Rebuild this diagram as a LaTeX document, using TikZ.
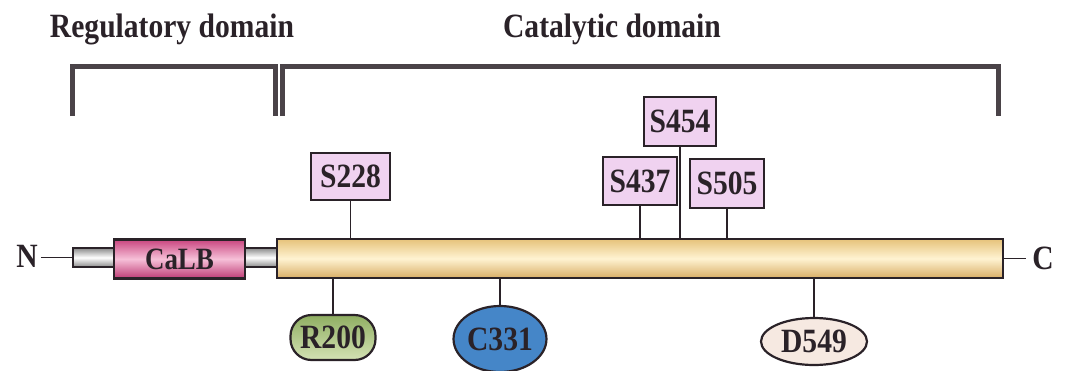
\documentclass[tikz,border=0pt]{standalone}
\usepackage{fontspec}
\setmainfont{Liberation Serif}
\usetikzlibrary{shapes.geometric}
\definecolor{ink}{HTML}{2A2228}
\definecolor{sitefill}{HTML}{F0D2F0}
\definecolor{barTop}{HTML}{E6C27A}
\definecolor{barMid}{HTML}{FFF3D2}
\definecolor{barBot}{HTML}{D9AE66}
\definecolor{calbTop}{HTML}{C9457F}
\definecolor{calbMid}{HTML}{F6C0D8}
\definecolor{calbBot}{HTML}{BE3A74}
\definecolor{tubeDark}{HTML}{8A8A8A}
\definecolor{greenTop}{HTML}{8FAE62}
\definecolor{greenBot}{HTML}{D4E2B4}
\definecolor{blueFill}{HTML}{4586C8}
\definecolor{beigeFill}{HTML}{F6E9E1}
% narrow, tall lettering
\newcommand{\narrowtxt}[1]{\scalebox{0.87}[1]{#1}}
\tikzset{
  every node/.style={text=ink, font=\bfseries},
  bracket/.style={draw=ink!85, line width=5pt, line join=miter, line cap=butt},
  tube/.style={draw=ink, line width=1.6pt, top color=tubeDark, bottom color=tubeDark, middle color=white, inner sep=0pt},
  protein/.style={draw=ink, line width=2.2pt, top color=barTop, bottom color=barBot, middle color=barMid, inner sep=0pt},
  calb/.style={draw=ink, line width=2.2pt, top color=calbTop, bottom color=calbBot, middle color=calbMid, inner sep=0pt, font=\bfseries\fontsize{31}{31}\selectfont},
  sitebox/.style={draw=ink, line width=2.2pt, fill=sitefill, inner sep=0pt, font=\bfseries\fontsize{34}{34}\selectfont},
  residue/.style={draw=ink, line width=2.2pt, inner sep=0pt, font=\bfseries\fontsize{34}{34}\selectfont},
  stem/.style={draw=ink, line width=1.8pt},
  terminus/.style={font=\bfseries\fontsize{34}{34}\selectfont, inner sep=0pt},
  heading/.style={font=\bfseries\fontsize{34}{34}\selectfont}
}
\begin{document}
\begin{tikzpicture}[x=1pt, y=-1pt]
\useasboundingbox (0,0) rectangle (1066,370);

% domain headings
\node[heading] (reg) at (172,29) {\narrowtxt{Regulatory domain}};
\node[heading] (cat) at (612,29) {\narrowtxt{Catalytic domain}};

% domain brackets
\draw[bracket] (72,116) -- (72,66) -- (275,66) -- (275,116);
\draw[bracket] (282,116) -- (282,66) -- (998,66) -- (998,116);

% linker tubes
\node[tube, minimum width=41pt, minimum height=19pt] (tubeL) at (93.5,257.5) {};
\node[tube, minimum width=34pt, minimum height=19pt] (tubeR) at (261,257.5) {};

% CaLB domain and catalytic body
\node[calb, minimum width=131pt, minimum height=39pt] (calb) at (179.5,259) {\narrowtxt{CaLB}};
\node[protein, minimum width=726pt, minimum height=39pt] (bar) at (640,258.5) {};

% termini
\node[terminus] (N) at (27,256) {\narrowtxt{N}};
\node[terminus] (C) at (1043,258) {\narrowtxt{C}};
\draw[stem] ([xshift=3pt]N.east |- tubeL.west) -- (tubeL.west);
\draw[stem] (bar.east) -- ([xshift=-6pt]C.west |- bar.east);

% phosphorylation sites
\node[sitebox, minimum width=79pt, minimum height=47pt] (s228) at (350.5,176.5) {\narrowtxt{S228}};
\node[sitebox, minimum width=74pt, minimum height=48pt] (s437) at (640,181) {\narrowtxt{S437}};
\node[sitebox, minimum width=72pt, minimum height=49pt] (s454) at (680,121.5) {\narrowtxt{S454}};
\node[sitebox, minimum width=74pt, minimum height=49pt] (s505) at (727,183.5) {\narrowtxt{S505}};
\foreach \s in {s228,s437,s454,s505}
  \draw[stem] (\s.south) -- (\s.south |- bar.north);

% catalytic residues
\node[residue, top color=greenTop, bottom color=greenBot, rounded corners=21pt,
      minimum width=85pt, minimum height=45pt] (r200) at (333,337.5) {\narrowtxt{R200}};
\node[residue, ellipse, fill=blueFill, minimum width=79pt, minimum height=66pt] (c331) at (500,339) {\narrowtxt{C331}};
\node[residue, ellipse, fill=beigeFill, minimum width=106pt, minimum height=47pt] (d549) at (814,341.5) {\narrowtxt{D549}};
\foreach \r in {r200,c331,d549}
  \draw[stem] (\r.north) -- (\r.north |- bar.south);
\end{tikzpicture}
\end{document}
